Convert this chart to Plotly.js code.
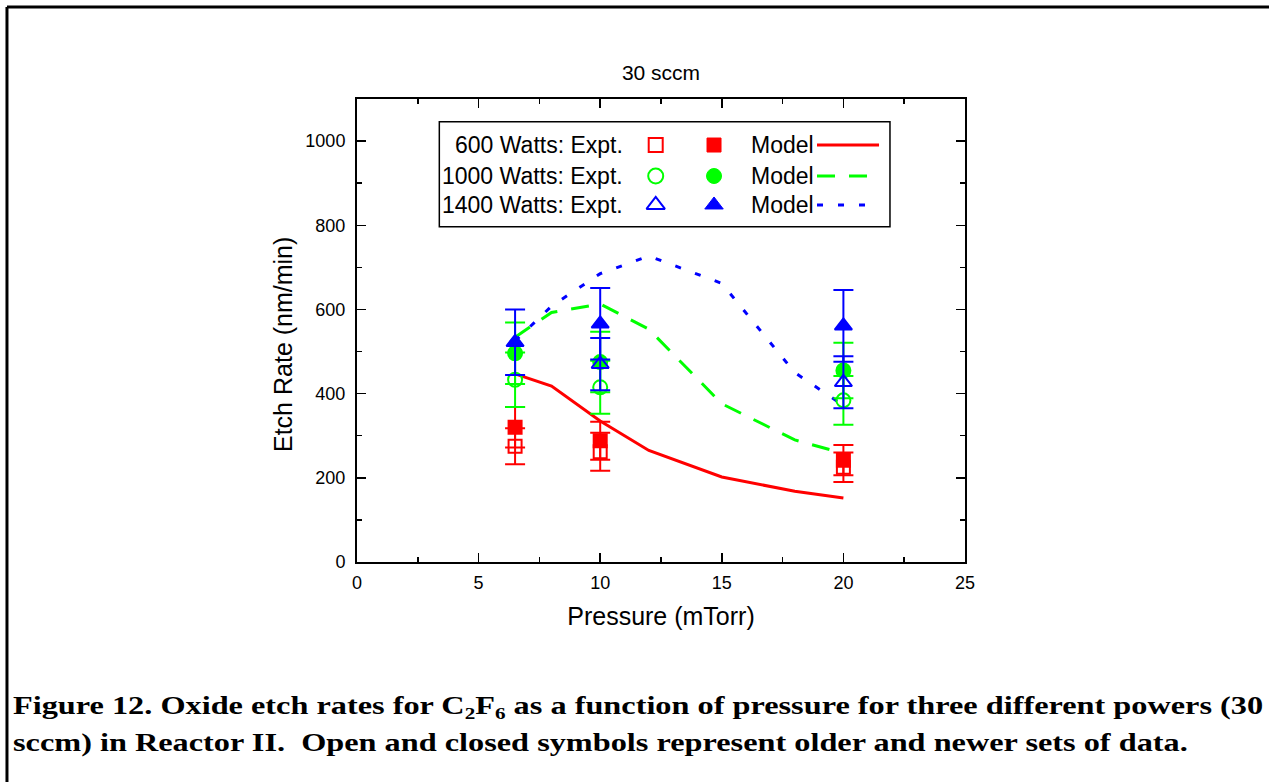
<!DOCTYPE html>
<html>
<head>
<meta charset="utf-8">
<script src="https://cdn.plot.ly/plotly-3.0.1.min.js"></script>
<style>
  html, body { margin: 0; padding: 0; background: #ffffff; }
  #wrap { position: relative; width: 1269px; height: 782px; overflow: hidden; }
  #chart { position: absolute; left: 0; top: 0; width: 1269px; height: 782px; }
  #caption {
    position: absolute; left: 13px; top: 687px;
    font-family: 'Liberation Serif', 'Times New Roman', serif; font-weight: bold;
    font-size: 26px; line-height: 37px; color: #000; white-space: nowrap;
    transform: scaleX(1.242); transform-origin: 0 0;
  }
  #caption sub { font-size: 17px; line-height: 0; vertical-align: -5px; }
</style>
</head>
<body>
<div id="wrap">
<div id="chart"></div>
<div id="caption">Figure 12. Oxide etch rates for C<sub>2</sub>F<sub>6</sub> as a function of pressure for three different powers (30<br>sccm) in Reactor II.&nbsp; Open and closed symbols represent older and newer sets of data.</div>
</div>
<script>
// ---------------- data ----------------
const pressureExpt = [6.5, 10, 20];
const pressureExptOpen1400 = [10, 20];

const expt600Open = [275, 262, 225];
const err600Open = [43, 45, 35];
const expt600Filled = [320, 288, 242];
const err600Filled = [48, 45, 36];

const expt1000Open = [433, 415, 384];
const err1000Open = [65, 63, 58];
const expt1000Filled = [496, 475, 455];
const err1000Filled = [73, 72, 66];

const expt1400Open = [470, 427];
const err1400Open = [62, 62];
const expt1400Filled = [522, 566, 561];
const err1400Filled = [78, 85, 85];

const modelPressure = [6.5, 8, 10, 12, 15, 18, 20];
const model600 = [447, 418, 335, 265, 202, 168, 152];
const model1000 = [534, 593, 613, 553, 376, 290, 258];
const model1400 = [525, 608, 685, 727, 662, 450, 372];

const legendLabels = ['600 Watts: Expt.', '1000 Watts: Expt.', '1400 Watts: Expt.'];
const modelLabel = 'Model';
const xTitle = 'Pressure (mTorr)';
const yTitle = 'Etch Rate (nm/min)';
const chartTitle = '30 sccm';

// ---------------- styles ----------------
const RED = '#ff0000', GREEN = '#00ff00', BLUE = '#0000ff';
const FONT = 'Liberation Sans, Arial, sans-serif';

function expt(x, y, err, color, symbol, size) {
  return {
    type: 'scatter', mode: 'markers', x: x, y: y,
    marker: { symbol: symbol, size: size, color: color,
              line: { color: color, width: 2 } },
    error_y: { type: 'data', array: err, visible: true, color: color, thickness: 2, width: 10 },
    showlegend: false, hoverinfo: 'x+y'
  };
}
function model(y, color, dash) {
  return {
    type: 'scatter', mode: 'lines', x: modelPressure, y: y,
    line: { color: color, width: 3, dash: dash },
    showlegend: false, hoverinfo: 'x+y'
  };
}

const traces = [
  model(model600, RED, 'solid'),
  model(model1000, GREEN, '18px,14px'),
  model(model1400, BLUE, '6px,15px'),
  expt(pressureExpt, expt600Open, err600Open, RED, 'square-open', 13),
  expt(pressureExpt, expt600Filled, err600Filled, RED, 'square', 13),
  expt(pressureExpt, expt1000Open, err1000Open, GREEN, 'circle-open', 14),
  expt(pressureExpt, expt1000Filled, err1000Filled, GREEN, 'circle', 14),
  expt(pressureExptOpen1400, expt1400Open, err1400Open, BLUE, 'triangle-up-open', 15),
  expt(pressureExpt, expt1400Filled, err1400Filled, BLUE, 'triangle-up', 15)
];

// ---------------- legend (drawn on a hidden overlay axis, unit coordinates) ----------------
const LG = {
  rows: [0.9006, 0.8337, 0.7711],
  textRight: 0.4408, openX: 0.4913, filledX: 0.5872, modelX: 0.6448,
  lineX0: 0.7566, lineX1: 0.8586,
  box: [0.1354, 0.7242, 0.8766, 0.951]
};
const legendStyles = [
  { color: RED, open: 'square-open', filled: 'square', size: 14, dash: 'solid' },
  { color: GREEN, open: 'circle-open', filled: 'circle', size: 15, dash: '18px,14px' },
  { color: BLUE, open: 'triangle-up-open', filled: 'triangle-up', size: 16, dash: '6px,15px' }
];
legendStyles.forEach((s, i) => {
  const yy = LG.rows[i];
  traces.push({ type: 'scatter', mode: 'markers', xaxis: 'x2', yaxis: 'y2',
    x: [LG.openX], y: [yy], marker: { symbol: s.open, size: s.size, color: s.color, line: { color: s.color, width: 2 } },
    showlegend: false, hoverinfo: 'skip' });
  traces.push({ type: 'scatter', mode: 'markers', xaxis: 'x2', yaxis: 'y2',
    x: [LG.filledX], y: [yy], marker: { symbol: s.filled, size: s.size, color: s.color, line: { color: s.color, width: 1 } },
    showlegend: false, hoverinfo: 'skip' });
  traces.push({ type: 'scatter', mode: 'lines', xaxis: 'x2', yaxis: 'y2',
    x: [LG.lineX0, LG.lineX1], y: [yy, yy], line: { color: s.color, width: 3, dash: s.dash },
    showlegend: false, hoverinfo: 'skip' });
});

const annotations = [];
legendLabels.forEach((t, i) => {
  annotations.push({ xref: 'paper', yref: 'paper', x: LG.textRight, y: LG.rows[i], xanchor: 'right', yanchor: 'middle',
    text: t, showarrow: false, font: { family: FONT, size: 23, color: '#000' } });
  annotations.push({ xref: 'paper', yref: 'paper', x: LG.modelX, y: LG.rows[i], xanchor: 'left', yanchor: 'middle',
    text: modelLabel, showarrow: false, font: { family: FONT, size: 23, color: '#000' } });
});
// y-axis title (placed as in the original, slightly below the plot's mid-height)
annotations.push({ xref: 'paper', yref: 'paper', x: -0.1217, y: 0.4687, xanchor: 'center', yanchor: 'middle',
  textangle: -90, text: yTitle, showarrow: false, font: { family: FONT, size: 25, color: '#000' } });

const shapes = [
  // legend box
  { type: 'rect', xref: 'paper', yref: 'paper', x0: LG.box[0], y0: LG.box[1], x1: LG.box[2], y1: LG.box[3],
    line: { color: '#000', width: 1.5 }, fillcolor: 'rgba(0,0,0,0)' },
  // figure frame (left and top edges)
  { type: 'line', xref: 'paper', yref: 'paper', x0: -0.5757, y0: 1.1987, x1: -0.5757, y1: -0.6, line: { color: '#000', width: 3 } },
  { type: 'line', xref: 'paper', yref: 'paper', x0: -0.5757, y0: 1.1987, x1: 1.6, y1: 1.1987, line: { color: '#000', width: 3 } }
];

const axisCommon = {
  showline: true, linecolor: '#000', linewidth: 2, mirror: 'ticks',
  ticks: 'inside', ticklen: 9, tickwidth: 1.5, tickcolor: '#000',
  showgrid: false, zeroline: false,
  tickfont: { family: FONT, size: 18, color: '#000' }
};

const layout = {
  width: 1269, height: 782,
  margin: { l: 357, r: 304, t: 99, b: 220 },
  paper_bgcolor: 'rgba(0,0,0,0)', plot_bgcolor: '#fff',
  showlegend: false,
  title: { text: chartTitle, font: { family: FONT, size: 21, color: '#000' },
           x: 0.5, xref: 'paper', xanchor: 'center', y: 1 - 73 / 782, yref: 'container', yanchor: 'middle' },
  xaxis: Object.assign({}, axisCommon, {
    range: [0, 25], tick0: 0, dtick: 5,
    minor: { dtick: 2.5, ticks: 'inside', ticklen: 5, tickwidth: 1.5, tickcolor: '#000' },
    ticklabelstandoff: 3,
    title: { text: xTitle, font: { family: FONT, size: 25, color: '#000' }, standoff: 16 }
  }),
  yaxis: Object.assign({}, axisCommon, {
    range: [0, 1100], tick0: 0, dtick: 200,
    minor: { dtick: 100, ticks: 'inside', ticklen: 5, tickwidth: 1.5, tickcolor: '#000' },
    ticklabelstandoff: 6
  }),
  xaxis2: { overlaying: 'x', range: [0, 1], visible: false, anchor: 'y2', fixedrange: true },
  yaxis2: { overlaying: 'y', range: [0, 1], visible: false, anchor: 'x2', fixedrange: true },
  shapes: shapes,
  annotations: annotations
};

Plotly.newPlot('chart', traces, layout, { displayModeBar: false, staticPlot: true });
</script>
</body>
</html>
